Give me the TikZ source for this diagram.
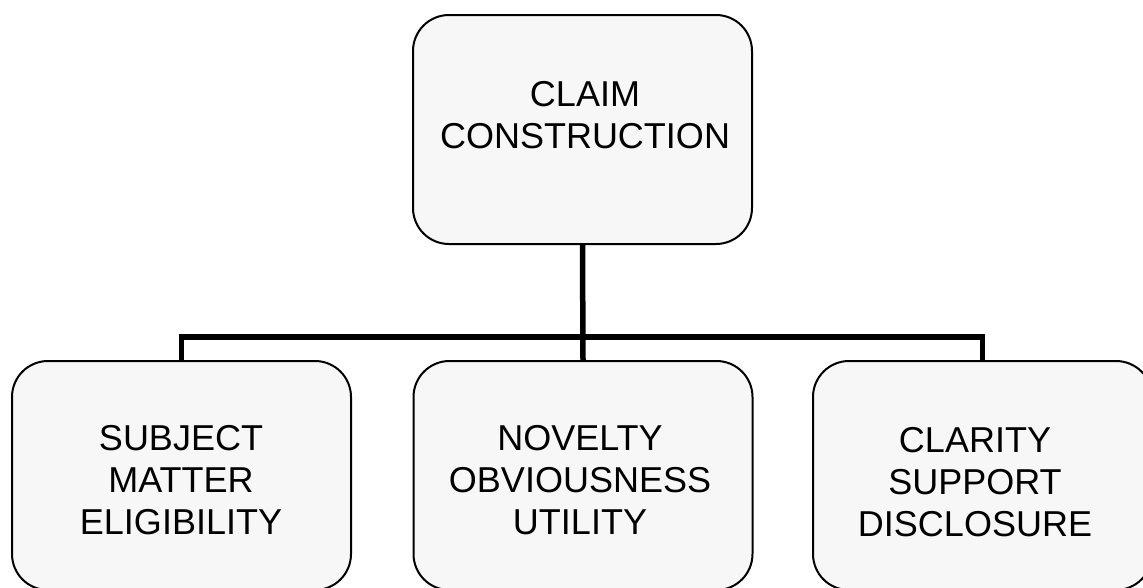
\documentclass[tikz,border=0pt]{standalone}
\usepackage{fontspec}
\setmainfont{Liberation Sans}
\begin{document}
\begin{tikzpicture}[x=1pt,y=-1pt,
  box/.style={draw=black, line width=2pt, rounded corners=36pt, fill=black!3,
    minimum width=339pt, minimum height=229pt, inner sep=0pt},
  lbl/.style={font=\fontsize{36}{42}\selectfont, align=center, text=black, inner sep=0pt},
  conn/.style={draw=black, line width=5.5pt, line join=miter}]
\useasboundingbox (0,0) rectangle (1143,587);
\clip (0,0) rectangle (1143,587);
\coordinate (bus) at (0,337);
% boxes
\node[box] (top) at (582.5,129.5) {};
\node[box] (left) at (181.5,475.5) {};
\node[box] (mid) at (583,475.5) {};
\node[box] (right) at (982.5,475.5) {};
% connectors
\draw[conn] (top.south) -- (mid.north);
\draw[conn] (left.north) -- (left.north |- bus) -- (right.north |- bus) -- (right.north);
% texts
\node[lbl] (ttop) at (585,115.5) {CLAIM\\CONSTRUCTION};
\node[lbl] (tleft) at (181,480) {SUBJECT\\MATTER\\ELIGIBILITY};
\node[lbl] (tmid) at (580,480) {NOVELTY\\OBVIOUSNESS\\UTILITY};
\node[lbl] (tright) at (975,482) {CLARITY\\SUPPORT\\DISCLOSURE};
\end{tikzpicture}
\end{document}
